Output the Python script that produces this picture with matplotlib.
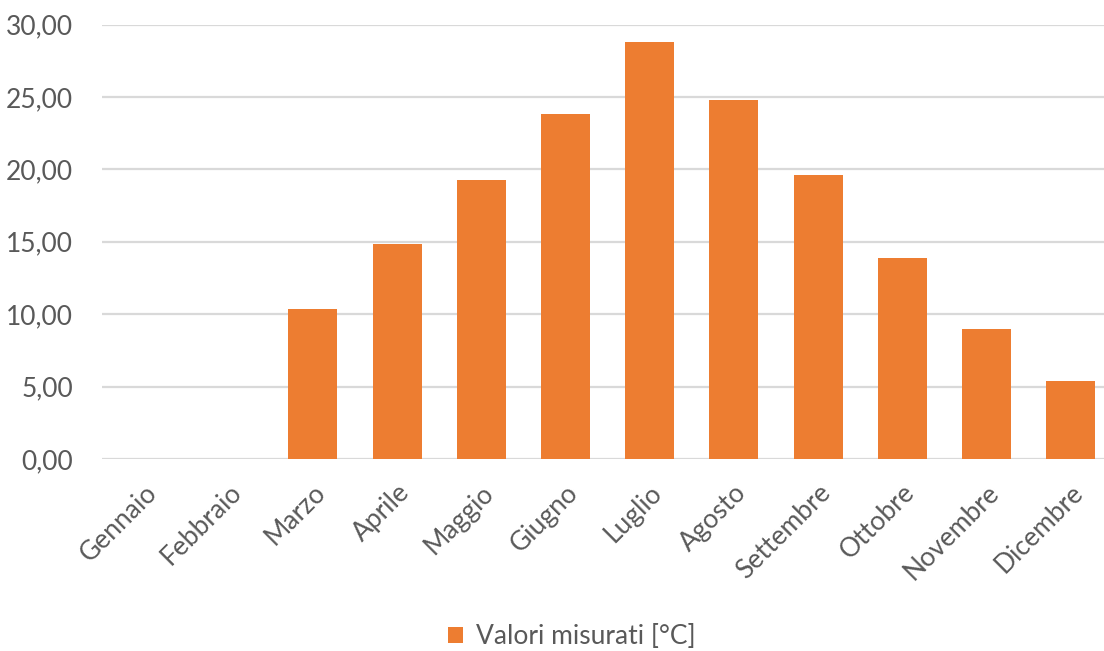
import numpy as np
import matplotlib
matplotlib.use("Agg")
import matplotlib.pyplot as plt
from matplotlib.ticker import FuncFormatter

plt.rcParams["font.family"] = ["Lato", "DejaVu Sans"]

MESI = ["Gennaio", "Febbraio", "Marzo", "Aprile", "Maggio", "Giugno",
        "Luglio", "Agosto", "Settembre", "Ottobre", "Novembre", "Dicembre"]
VALORI = [np.nan, np.nan, 10.36, 14.85, 19.27, 23.79,
          28.76, 24.76, 19.61, 13.88, 9.01, 5.42]
Y_TICKS = [0, 5, 10, 15, 20, 25, 30]

ARANCIO = "#ED7D31"
GRIGIO = "#595959"

fig = plt.figure(figsize=(11.04, 6.51), dpi=100)
ax = fig.add_axes([102.4 / 1104, 1 - 459 / 651, 1010.4 / 1104, 434.5 / 651])

x = np.arange(len(MESI))
ax.bar(x, VALORI, width=0.58, color=ARANCIO, label="Valori misurati [°C]", zorder=3)

ax.set_xlim(-0.5, len(MESI) - 0.5)
ax.set_ylim(0, 30)
ax.set_yticks(Y_TICKS)
ax.yaxis.set_major_formatter(FuncFormatter(lambda v, _: f"{v:.2f}".replace(".", ",")))
ax.grid(axis="y", color="#D9D9D9", linewidth=1.6, zorder=0)
for s in ax.spines.values():
    s.set_visible(False)

ax.tick_params(axis="y", length=0, pad=21, labelsize=19, labelcolor=GRIGIO)
ax.tick_params(axis="x", length=0, pad=15, labelsize=19, labelcolor=GRIGIO)
ax.set_xticks(x)
ax.set_xticklabels(MESI, rotation=45, ha="right", va="top", rotation_mode="anchor")

fig.legend(loc="center", bbox_to_anchor=(572 / 1104, 1 - 637 / 651), frameon=False,
           fontsize=19, labelcolor=GRIGIO, handlelength=0.55, handleheight=0.55,
           handletextpad=0.5)

fig.savefig("out.png", dpi=100)
